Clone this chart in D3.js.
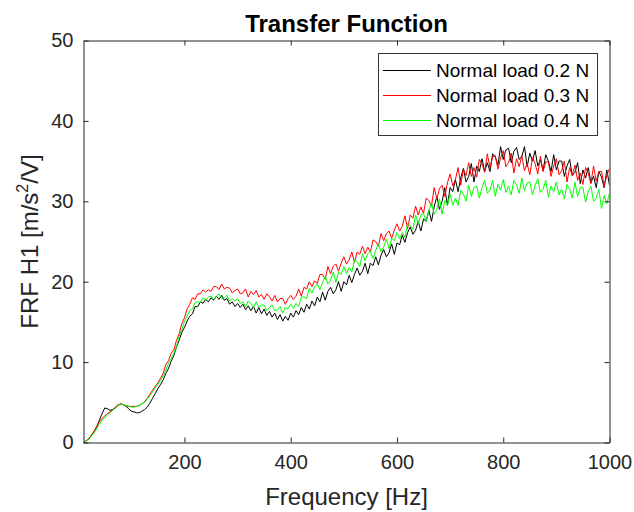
<!DOCTYPE html>
<html>
<head>
<meta charset="utf-8">
<script src="https://cdn.jsdelivr.net/npm/d3@7"></script>
<style>
  body { margin: 0; background: #fff; }
  svg { font-family: "Liberation Sans", Arial, sans-serif; }
</style>
</head>
<body>
<div id="chart"></div>
<script>
// sampled every 5 Hz from 10 Hz to 1000 Hz
const freqStart = 10, freqStep = 5;

const load02 = [
  0, 0.2, 0.5, 0.9, 1.4, 2.0, 2.8, 3.6, 4.3, 4.2,
  4.0, 4.1, 4.3, 4.6, 4.8, 4.7, 4.5, 4.2, 3.9, 3.8,
  3.7, 3.7, 3.9, 4.1, 4.4, 4.9, 5.5, 6.1, 6.7, 7.2,
  7.8, 8.6, 9.2, 10.1, 10.8, 11.9, 12.7, 13.7, 14.3, 15.1,
  15.7, 16.0, 16.9, 16.9, 17.5, 17.3, 17.8, 17.5, 18.0, 17.7,
  18.2, 17.8, 18.3, 17.7, 17.9, 17.2, 17.5, 16.9, 17.3, 16.8,
  17.2, 16.5, 17.0, 16.4, 16.9, 16.1, 16.8, 16.0, 16.6, 15.8,
  16.3, 15.6, 16.1, 15.3, 15.9, 15.1, 15.7, 15.2, 16.1, 15.6,
  16.4, 15.9, 16.8, 16.2, 17.2, 16.6, 17.6, 17.0, 18.1, 17.5,
  18.7, 17.7, 18.8, 19.3, 18.5, 19.0, 20.0, 18.8, 20.0, 19.6,
  20.8, 19.9, 20.9, 21.7, 20.8, 21.3, 22.3, 21.0, 22.3, 22.0,
  23.1, 22.1, 23.3, 24.0, 23.1, 23.6, 24.7, 23.4, 24.8, 24.6,
  25.8, 24.9, 26.1, 26.8, 25.9, 26.4, 27.5, 26.3, 27.8, 27.5,
  28.9, 27.5, 29.3, 30.6, 29.0, 30.0, 31.7, 29.5, 31.7, 31.2,
  32.7, 31.2, 32.9, 34.1, 32.4, 33.1, 34.7, 32.4, 34.4, 33.7,
  35.3, 33.7, 34.8, 33.7, 35.9, 35.5, 34.5, 36.8, 35.2, 36.4,
  36.6, 34.8, 36.2, 36.7, 35.2, 35.6, 36.8, 34.3, 36.0, 35.0,
  36.3, 34.4, 35.2, 33.8, 35.8, 35.0, 33.7, 35.8, 33.9, 35.0,
  35.0, 33.1, 34.4, 35.2, 33.2, 33.6, 34.8, 32.2, 33.9, 32.9,
  34.2, 32.3, 33.1, 31.7, 33.7, 33.0, 31.7, 33.9, 32.0
];

const load03 = [
  0, 0.2, 0.5, 0.9, 1.4, 2.0, 2.6, 3.0, 3.3, 3.6,
  3.8, 4.1, 4.4, 4.7, 4.8, 4.7, 4.6, 4.5, 4.5, 4.5,
  4.5, 4.6, 4.8, 5.1, 5.5, 6.0, 6.5, 7.0, 7.4, 8.0,
  8.6, 9.7, 10.2, 11.1, 11.5, 12.7, 13.5, 14.8, 15.5, 16.6,
  17.2, 18.0, 17.8, 18.5, 18.5, 19.0, 18.7, 19.0, 18.8, 19.4,
  19.4, 19.0, 19.7, 19.1, 19.3, 19.2, 18.6, 18.9, 19.1, 18.5,
  18.6, 19.1, 18.1, 18.8, 18.4, 18.9, 18.1, 18.4, 17.8, 18.5,
  18.1, 17.6, 18.3, 17.5, 17.9, 17.9, 17.2, 17.9, 18.3, 17.8,
  18.2, 19.1, 18.2, 19.3, 19.1, 20.0, 19.4, 20.1, 19.8, 20.9,
  20.9, 20.3, 21.9, 21.0, 21.9, 22.2, 21.3, 22.3, 23.1, 22.2,
  22.7, 23.7, 22.4, 23.7, 23.4, 24.4, 23.5, 24.3, 23.7, 25.2,
  25.0, 24.4, 26.0, 25.1, 26.0, 26.3, 25.4, 26.4, 27.2, 26.3,
  26.9, 28.2, 26.6, 28.3, 27.9, 29.4, 28.3, 29.3, 28.5, 30.4,
  30.1, 29.4, 31.7, 30.3, 31.6, 32.0, 30.6, 32.3, 33.4, 31.9,
  32.7, 34.2, 32.0, 34.0, 33.2, 34.8, 33.1, 34.2, 33.0, 35.2,
  34.7, 33.6, 35.9, 34.2, 35.5, 35.7, 34.0, 35.4, 36.3, 34.3,
  34.8, 36.0, 33.5, 35.3, 34.3, 35.7, 33.8, 34.7, 33.3, 35.4,
  34.7, 33.4, 35.6, 33.7, 34.9, 34.9, 33.1, 34.4, 35.3, 33.3,
  33.8, 35.0, 32.4, 34.2, 33.2, 34.5, 32.6, 33.5, 32.1, 34.2,
  33.5, 32.2, 34.4, 32.5, 33.7, 33.7, 31.9, 33.2, 34.1
];

const load04 = [
  0, 0.2, 0.4, 0.8, 1.2, 1.7, 2.3, 2.8, 3.1, 3.4,
  3.7, 4.0, 4.3, 4.6, 4.8, 4.7, 4.6, 4.5, 4.4, 4.4,
  4.5, 4.6, 4.8, 5.0, 5.4, 5.8, 6.3, 6.8, 7.2, 7.7,
  8.3, 9.0, 9.9, 10.4, 11.1, 11.9, 13.2, 14.0, 15.1, 15.7,
  16.4, 16.6, 17.4, 17.5, 17.4, 18.0, 17.7, 18.1, 18.2, 17.8,
  18.2, 18.5, 17.9, 18.0, 18.3, 17.6, 17.9, 17.6, 17.9, 17.3,
  17.5, 16.9, 17.6, 17.3, 16.8, 17.5, 16.8, 17.1, 17.1, 16.4,
  16.8, 17.1, 16.4, 16.5, 16.9, 16.1, 16.8, 16.6, 17.2, 16.7,
  17.3, 16.9, 18.1, 18.1, 17.9, 19.2, 18.6, 19.4, 19.7, 19.0,
  19.9, 20.7, 19.7, 20.2, 21.2, 19.9, 21.2, 20.9, 21.9, 21.0,
  21.8, 21.2, 22.7, 22.5, 21.9, 23.5, 22.6, 23.5, 23.8, 22.9,
  23.9, 24.7, 23.7, 24.3, 25.3, 24.1, 25.4, 25.1, 26.1, 25.3,
  26.1, 25.5, 27.2, 27.0, 26.5, 28.3, 27.2, 28.3, 28.5, 27.5,
  28.8, 29.8, 28.4, 29.0, 30.3, 28.4, 30.1, 29.5, 30.9, 29.5,
  30.4, 29.5, 31.4, 30.9, 30.0, 32.0, 30.6, 31.7, 31.9, 30.4,
  31.7, 32.6, 31.0, 31.4, 32.6, 30.6, 32.1, 31.4, 32.7, 31.1,
  31.9, 30.8, 32.6, 32.0, 31.0, 32.9, 31.3, 32.3, 32.4, 30.8,
  32.0, 32.8, 31.1, 31.5, 32.6, 30.5, 31.9, 31.2, 32.4, 30.8,
  31.5, 30.3, 32.1, 31.5, 30.4, 32.4, 30.6, 31.7, 31.7, 29.9,
  31.2, 31.9, 30.0, 30.4, 31.5, 29.1, 30.7, 29.7, 31.0
];

const seriesNames = ["Normal load 0.2 N", "Normal load 0.3 N", "Normal load 0.4 N"];
const seriesColors = ["#000000", "#ff0000", "#00ff00"];
const xTicks = [200, 400, 600, 800, 1000];
const yTicks = [0, 10, 20, 30, 40, 50];

const W = 634, H = 512;
const plotL = 83.5, plotR = 609.5, plotT = 40.5, plotB = 442.5;

const svg = d3.select("#chart").append("svg")
  .attr("width", W).attr("height", H);

const x = d3.scaleLinear().domain([10, 1000]).range([plotL, plotR]);
const y = d3.scaleLinear().domain([0, 50]).range([plotB, plotT]);

svg.append("defs").append("clipPath").attr("id", "clip")
  .append("rect")
  .attr("x", plotL).attr("y", plotT)
  .attr("width", plotR - plotL).attr("height", plotB - plotT);

// lines
const allSeries = [load02, load03, load04];
const line = d3.line()
  .x(function (d, i) { return x(freqStart + i * freqStep); })
  .y(function (d) { return y(d); });

svg.append("g").attr("clip-path", "url(#clip)")
  .selectAll("path")
  .data(allSeries)
  .enter()
  .append("path")
  .attr("fill", "none")
  .attr("stroke", function (d, i) { return seriesColors[i]; })
  .attr("stroke-width", 1)
  .attr("d", line);

// axes (MATLAB style box with inward ticks)
const axisColor = "#262626";
const tickLen = 5;

svg.append("g")
  .attr("transform", "translate(0," + plotB + ")")
  .call(d3.axisBottom(x).tickValues(xTicks).tickFormat(d3.format("d"))
    .tickSize(-tickLen).tickPadding(12).tickSizeOuter(0))
  .call(function (g) {
    g.select(".domain").attr("stroke", axisColor);
    g.selectAll(".tick line").attr("stroke", axisColor);
    g.selectAll(".tick text").attr("fill", axisColor).attr("font-size", 20)
      .attr("font-family", "Liberation Sans, Arial, sans-serif");
  });

svg.append("g")
  .attr("transform", "translate(0," + plotT + ")")
  .call(d3.axisTop(x).tickValues(xTicks).tickSize(-tickLen).tickFormat("").tickSizeOuter(0))
  .call(function (g) {
    g.select(".domain").attr("stroke", axisColor);
    g.selectAll(".tick line").attr("stroke", axisColor);
  });

svg.append("g")
  .attr("transform", "translate(" + plotL + ",0)")
  .call(d3.axisLeft(y).tickValues(yTicks).tickSize(-tickLen).tickPadding(10).tickSizeOuter(0))
  .call(function (g) {
    g.select(".domain").attr("stroke", axisColor);
    g.selectAll(".tick line").attr("stroke", axisColor);
    g.selectAll(".tick text").attr("fill", axisColor).attr("font-size", 20)
      .attr("font-family", "Liberation Sans, Arial, sans-serif");
  });

svg.append("g")
  .attr("transform", "translate(" + plotR + ",0)")
  .call(d3.axisRight(y).tickValues(yTicks).tickSize(-tickLen).tickFormat("").tickSizeOuter(0))
  .call(function (g) {
    g.select(".domain").attr("stroke", axisColor);
    g.selectAll(".tick line").attr("stroke", axisColor);
  });

// title and labels
svg.append("text")
  .attr("x", (plotL + plotR) / 2).attr("y", 32)
  .attr("text-anchor", "middle")
  .attr("font-size", 24).attr("font-weight", "bold")
  .attr("fill", "#000")
  .text("Transfer Function");

svg.append("text")
  .attr("x", (plotL + plotR) / 2).attr("y", 505)
  .attr("text-anchor", "middle")
  .attr("font-size", 24)
  .attr("fill", axisColor)
  .text("Frequency [Hz]");

const ylab = svg.append("text")
  .attr("transform", "translate(38," + (plotT + plotB) / 2 + ") rotate(-90)")
  .attr("text-anchor", "middle")
  .attr("font-size", 24)
  .attr("fill", axisColor);
ylab.append("tspan").text("FRF H1 [m/s");
ylab.append("tspan").attr("font-size", 16).attr("dy", -10).text("2");
ylab.append("tspan").attr("dy", 10).text("/V]");

// legend
const legend = svg.append("g");
legend.append("rect")
  .attr("x", 378.5).attr("y", 53.5)
  .attr("width", 219).attr("height", 82)
  .attr("fill", "#fff")
  .attr("stroke", "#333")
  .attr("stroke-width", 1);

seriesNames.forEach(function (name, i) {
  const rowY = 70 + i * 25;
  legend.append("line")
    .attr("x1", 383).attr("x2", 431)
    .attr("y1", rowY + 0.5).attr("y2", rowY + 0.5)
    .attr("stroke", seriesColors[i])
    .attr("stroke-width", 1);
  legend.append("text")
    .attr("x", 436).attr("y", rowY)
    .attr("dy", "0.36em")
    .attr("font-size", 19)
    .attr("fill", "#000")
    .text(name);
});
</script>
</body>
</html>
